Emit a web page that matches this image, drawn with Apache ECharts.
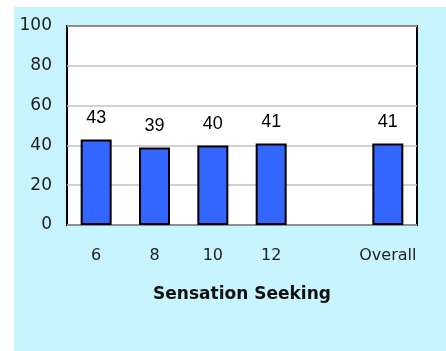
<!DOCTYPE html>
<html><head><meta charset="utf-8">
<script src="https://cdn.jsdelivr.net/npm/echarts@6/dist/echarts.min.js"></script>
<style>html,body{margin:0;padding:0;background:#fff}#c{width:446px;height:351px}</style>
</head><body><div id="c"></div>
<script>
const categories = ['6', '8', '10', '12', '', 'Overall'];
const values = [43, 39, 40, 41, '-', 41];
const yTicks = [0, 20, 40, 60, 80, 100];
const xTitle = 'Sensation Seeking';

const chart = echarts.init(document.getElementById('c'));
chart.setOption({
  animation: false,
  graphic: [{type: 'rect', z: -10, shape: {x: 14, y: 7, width: 432, height: 344}, style: {fill: '#c8f4fe'}}],
  grid: {left: 67, top: 26, width: 350, height: 199, show: true, backgroundColor: '#fff', borderColor: '#000', borderWidth: 2},
  xAxis: {
    type: 'category', data: categories,
    axisLine: {show: false}, axisTick: {show: false},
    axisLabel: {interval: 0, margin: 23, fontFamily: 'DejaVu Sans', fontSize: 16, color: '#222'},
    name: xTitle, nameLocation: 'middle', nameGap: 61,
    nameTextStyle: {fontFamily: 'DejaVu Sans', fontWeight: 'bold', fontSize: 17, color: '#111'}
  },
  yAxis: {
    type: 'value', min: yTicks[0], max: yTicks[yTicks.length - 1], interval: 20,
    axisLine: {show: false}, axisTick: {show: false},
    axisLabel: {margin: 15, fontFamily: 'DejaVu Sans', fontSize: 17, color: '#222'},
    splitLine: {lineStyle: {color: '#c0c0c0', width: 1.5}}
  },
  series: [{
    type: 'bar', data: values, barWidth: 31,
    itemStyle: {color: '#3366ff', borderColor: '#000', borderWidth: 2},
    label: {show: true, position: 'top', distance: 12, fontFamily: 'Liberation Sans', fontSize: 18, color: '#000'}
  }]
});
</script></body></html>
